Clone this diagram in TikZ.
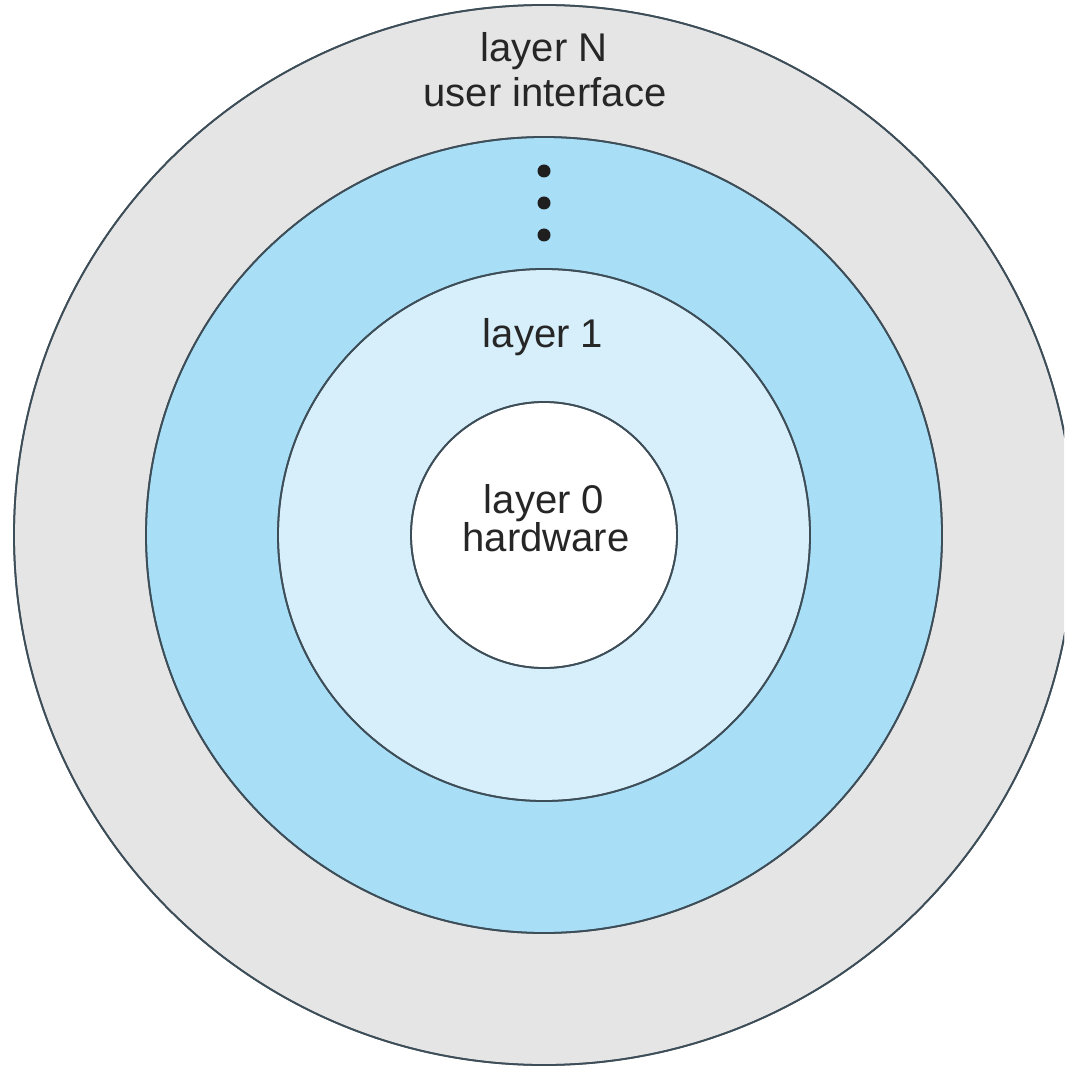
\documentclass[tikz,border=0pt]{standalone}
\usepackage{fontspec}
\setmainfont{Liberation Sans}
\usepackage{tikz}
\usetikzlibrary{positioning}

\definecolor{ringgray}{RGB}{229,229,229}
\definecolor{ringblue}{RGB}{168,222,246}
\definecolor{ringpale}{RGB}{214,239,250}
\definecolor{ringline}{RGB}{62,78,88}

\tikzset{
    ring/.style={draw=ringline, line width=0.5pt},
    lbl/.style={anchor=base, inner sep=0pt, font=\fontsize{11.4}{13}\selectfont, text=black!85}
}

\begin{document}
\begin{tikzpicture}
                    \useasboundingbox (0,0) rectangle (10.64,-10.66);
                    \clip (0,0) rectangle (10.64,-10.66);
                    \coordinate (c) at (5.44,-5.35);
                    \fill[ring, fill=ringgray] (c) circle (5.30);   %layer N
                    \fill[ring, fill=ringblue] (c) circle (3.98);   %middle layers
                    \fill[ring, fill=ringpale] (c) circle (2.66);   %layer 1
                    \fill[ring, fill=white] (c) circle (1.33);     %layer 0
                    \draw[ring] (c) circle (5.30);
                    \draw[ring] (c) circle (3.98);
                    \draw[ring] (c) circle (2.66);
                    \draw[ring] (c) circle (1.33);
                    \foreach \y in {1.71,2.03,2.35}
                        \fill[black!88] (5.44,-\y) circle (0.065);   %dots
                    \node[lbl] (layerN) at (5.44,-0.62) {layer N};
                    \node[lbl] (ui) at (5.45,-1.07) {user interface};
                    \node[lbl] (layerone) at (5.43,-3.48) {layer 1};
                    \node[lbl] (layerzero) at (5.44,-5.13) {layer 0};
                    \node[lbl] (hw) at (5.46,-5.51) {hardware};
                \end{tikzpicture}
\end{document}
